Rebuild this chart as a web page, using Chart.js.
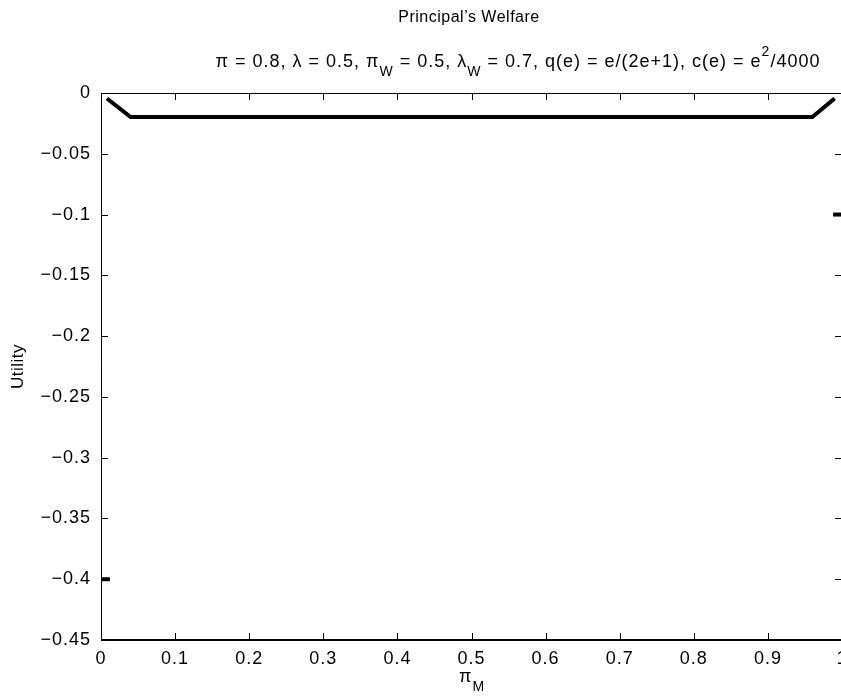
<!DOCTYPE html>
<html>
<head>
<meta charset="utf-8">
<style>
  html, body { margin: 0; padding: 0; background: #fff; overflow: hidden; }
  #wrap { width: 860px; height: 698px; }
</style>
<script src="https://cdn.jsdelivr.net/npm/chart.js@4"></script>
</head>
<body>
<div id="wrap"><canvas id="c" width="860" height="698"></canvas></div>
<script>
// Principal's welfare as a function of pi_M
const xMain = [0.008, 0.04, 0.96, 0.99];
const yMain = [-0.0045, -0.0198, -0.0198, -0.0045];
// short isolated segments at the edges of the range
const xLowEdge = [0, 0.012];
const yLowEdge = [-0.4, -0.4];
const xHighEdge = [0.988, 1];
const yHighEdge = [-0.1, -0.1];

// axis ticks
const xTicks = [0, 0.1, 0.2, 0.3, 0.4, 0.5, 0.6, 0.7, 0.8, 0.9, 1];
const yTicks = [0, -0.05, -0.1, -0.15, -0.2, -0.25, -0.3, -0.35, -0.4, -0.45];

const FONT = '"Liberation Sans", Arial, Helvetica, sans-serif';

function pts(xs, ys) { return xs.map((x, i) => ({ x: x, y: ys[i] })); }

function fmt(v) {
  if (Math.abs(v) < 1e-9) return '0';
  let s = Math.abs(v).toFixed(2).replace(/0+$/, '').replace(/\.$/, '');
  return (v < 0 ? '\u2212' : '') + s;
}

// draws a line of text with sub/superscript pieces
function drawRich(ctx, parts, x, y, size, align) {
  const small = Math.round(size * 0.8);
  let total = 0;
  parts.forEach(p => {
    ctx.font = (p.sub || p.sup ? small : size) + 'px ' + FONT;
    p.w = ctx.measureText(p.t).width;
    total += p.w;
  });
  let cx = align === 'center' ? x - total / 2 : x;
  ctx.textAlign = 'left';
  ctx.textBaseline = 'middle';
  parts.forEach(p => {
    ctx.font = (p.sub || p.sup ? small : size) + 'px ' + FONT;
    const dy = p.sub ? size * 0.55 : (p.sup ? -size * 0.55 : 0);
    ctx.fillText(p.t, cx, y + dy);
    cx += p.w;
  });
}

const spacing = {
  id: 'spacing',
  beforeUpdate(chart) { chart.ctx.letterSpacing = '1px'; },
  beforeDraw(chart) { chart.ctx.letterSpacing = '1px'; }
};

const frame = {
  id: 'frame',
  afterDraw(chart) {
    const ctx = chart.ctx;
    const a = chart.chartArea;
    const xs = chart.scales.x, ys = chart.scales.y;
    ctx.save();
    ctx.strokeStyle = '#000';
    ctx.lineWidth = 1;
    // inward tick marks on all four sides
    ctx.beginPath();
    xTicks.forEach(v => {
      const px = Math.round(xs.getPixelForValue(v)) + 0.5;
      ctx.moveTo(px, a.bottom); ctx.lineTo(px, a.bottom - 7);
      ctx.moveTo(px, a.top); ctx.lineTo(px, a.top + 7);
    });
    yTicks.forEach(v => {
      const py = Math.round(ys.getPixelForValue(v)) + 0.5;
      ctx.moveTo(a.left, py); ctx.lineTo(a.left + 7, py);
      ctx.moveTo(a.right, py); ctx.lineTo(a.right - 7, py);
    });
    ctx.stroke();
    // box
    ctx.beginPath();
    ctx.lineWidth = 1;
    ctx.moveTo(a.left + 0.5, a.bottom); ctx.lineTo(a.left + 0.5, a.top + 0.5);
    ctx.lineTo(a.right, a.top + 0.5); ctx.lineTo(a.right, a.bottom);
    ctx.stroke();
    ctx.beginPath();
    ctx.lineWidth = 2;
    ctx.moveTo(a.left, a.bottom); ctx.lineTo(a.right, a.bottom);
    ctx.stroke();

    // titles and axis labels
    ctx.fillStyle = '#000';
    ctx.letterSpacing = '0.5px';
    drawRich(ctx, [{ t: 'Principal\u2019s Welfare' }], 469, 18, 16, 'center');
    ctx.letterSpacing = '1px';
    drawRich(ctx, [
      { t: '\u03C0 = 0.8, \u03BB = 0.5, \u03C0' }, { t: 'W', sub: true },
      { t: ' = 0.5, \u03BB' }, { t: 'W', sub: true },
      { t: ' = 0.7, q(e) = e/(2e+1), c(e) = e' }, { t: '2', sup: true },
      { t: '/4000' }
    ], 518, 62, 18, 'center');
    drawRich(ctx, [{ t: '\u03C0' }, { t: 'M', sub: true }], 472, 677, 18, 'center');
    ctx.letterSpacing = '0.5px';
    ctx.save();
    ctx.translate(18, (a.top + a.bottom) / 2);
    ctx.rotate(-Math.PI / 2);
    drawRich(ctx, [{ t: 'Utility' }], 0, 0, 17, 'center');
    ctx.restore();
    ctx.restore();
  }
};

const lineStyle = { borderColor: '#000', borderWidth: 4, pointRadius: 0, showLine: true, fill: false };

new Chart(document.getElementById('c'), {
  type: 'scatter',
  data: {
    datasets: [
      Object.assign({ data: pts(xMain, yMain) }, lineStyle),
      Object.assign({ data: pts(xLowEdge, yLowEdge) }, lineStyle),
      Object.assign({ data: pts(xHighEdge, yHighEdge) }, lineStyle)
    ]
  },
  options: {
    responsive: false,
    animation: false,
    devicePixelRatio: 1,
    layout: { padding: { left: 0, top: 93, right: 18, bottom: 18 } },
    plugins: { legend: { display: false }, tooltip: { enabled: false }, title: { display: false } },
    scales: {
      x: {
        type: 'linear', min: 0, max: 1,
        grid: { display: false, drawTicks: false },
        border: { display: false },
        afterFit(s) { s.height = 40; },
        afterBuildTicks(s) { s.ticks = xTicks.map(v => ({ value: v })); },
        ticks: {
          color: '#000', padding: 8, maxRotation: 0, autoSkip: false,
          font: { family: FONT, size: 18 },
          callback: v => fmt(v)
        }
      },
      y: {
        type: 'linear', min: -0.45, max: 0,
        grid: { display: false, drawTicks: false },
        border: { display: false },
        afterFit(s) { s.width = 101; },
        afterBuildTicks(s) { s.ticks = yTicks.map(v => ({ value: v })); },
        ticks: {
          color: '#000', padding: 10, autoSkip: false,
          font: { family: FONT, size: 18 },
          callback: v => fmt(v)
        }
      }
    }
  },
  plugins: [spacing, frame]
});
</script>
</body>
</html>
